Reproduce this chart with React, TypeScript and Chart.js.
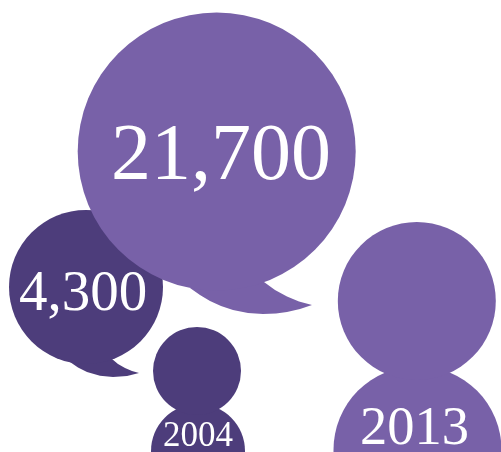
import React, { useEffect, useRef } from "react";
import { Chart, registerables } from "chart.js";

Chart.register(...registerables);

const DARK = "#4d3d7b";
const LIGHT = "#7861a8";
const FONT = '"Liberation Serif", serif';

// Speech bubbles: amounts
const speechLabels = ["21,700", "4,300"];
const speechX = [216.7, 86];
const speechY = [151.5, 287];
const speechR = [139, 77];

// Speech-bubble tails, outlines
const bigTailX = [190, 200, 210, 221, 233, 248, 263, 276, 287, 300, 312, 299, 287, 275, 264, 230];
const bigTailY = [288, 295, 301, 306, 310, 313, 314, 313.5, 312, 309, 305, 301.5, 296.5, 290, 282, 250];
const darkTailX = [70, 78, 87, 100, 113, 127, 139, 132, 125, 118, 112, 90];
const darkTailY = [362, 367.5, 372, 375.8, 377, 376, 373, 371, 368, 364, 359, 340];

// Person icons: years
const yearLabels = ["2013", "2004"];
const headX = [416.8, 197];
const headY = [301, 371];
const headR = [79, 44];
const bodyX = [417.5, 198];
const bodyY = [450, 451];
const bodyR = [84, 47];

// Text placement
const textX = [221, 83, 414.5, 198];
const textY = [179, 310, 444, 446];
const textSize = [80, 57, 54.5, 35];
const textItems = [...speechLabels, ...yearLabels];

const zip = (xs: number[], ys: number[]) => xs.map((x, i) => ({ x, y: ys[i] }));

const tail = (xs: number[], ys: number[], color: string, order: number) => ({
  type: "line" as const,
  data: zip(xs, ys),
  borderWidth: 0,
  borderColor: color,
  backgroundColor: color,
  pointRadius: 0,
  fill: "shape",
  tension: 0,
  order,
});

const circle = (x: number, y: number, r: number, color: string, order: number) => ({
  type: "bubble" as const,
  data: [{ x, y, r }],
  backgroundColor: color,
  borderWidth: 0,
  hoverRadius: 0,
  order,
});

const textPlugin = {
  id: "bubbleText",
  afterDatasetsDraw(chart: any) {
    const { ctx, scales } = chart;
    ctx.save();
    ctx.fillStyle = "#ffffff";
    ctx.textAlign = "center";
    ctx.textBaseline = "alphabetic";
    textItems.forEach((t, i) => {
      ctx.font = `${textSize[i]}px ${FONT}`;
      ctx.fillText(t, scales.x.getPixelForValue(textX[i]), scales.y.getPixelForValue(textY[i]));
    });
    ctx.restore();
  },
};

export default function App() {
  const ref = useRef<HTMLCanvasElement>(null);

  useEffect(() => {
    const chart = new Chart(ref.current as HTMLCanvasElement, {
      type: "bubble",
      data: {
        datasets: [
          circle(speechX[0], speechY[0], speechR[0], LIGHT, 0),
          tail(bigTailX, bigTailY, LIGHT, 1),
          circle(speechX[1], speechY[1], speechR[1], DARK, 2),
          tail(darkTailX, darkTailY, DARK, 3),
          circle(headX[0], headY[0], headR[0], LIGHT, 4),
          circle(bodyX[0], bodyY[0], bodyR[0], LIGHT, 5),
          circle(headX[1], headY[1], headR[1], DARK, 6),
          circle(bodyX[1], bodyY[1], bodyR[1], DARK, 7),
        ] as any,
      },
      options: {
        animation: false,
        responsive: false,
        events: [],
        layout: { padding: 0, autoPadding: false },
        plugins: { legend: { display: false }, tooltip: { enabled: false } },
        scales: {
          x: { type: "linear", min: 0, max: 501, display: false },
          y: { type: "linear", min: 0, max: 452, reverse: true, display: false },
        },
      },
      plugins: [textPlugin],
    });
    return () => chart.destroy();
  }, []);

  return (
    <div style={{ position: "absolute", left: 0, top: 0, width: 501, height: 452, overflow: "hidden", background: "#fff" }}>
      <canvas ref={ref} width={501} height={452} style={{ display: "block" }} />
    </div>
  );
}
